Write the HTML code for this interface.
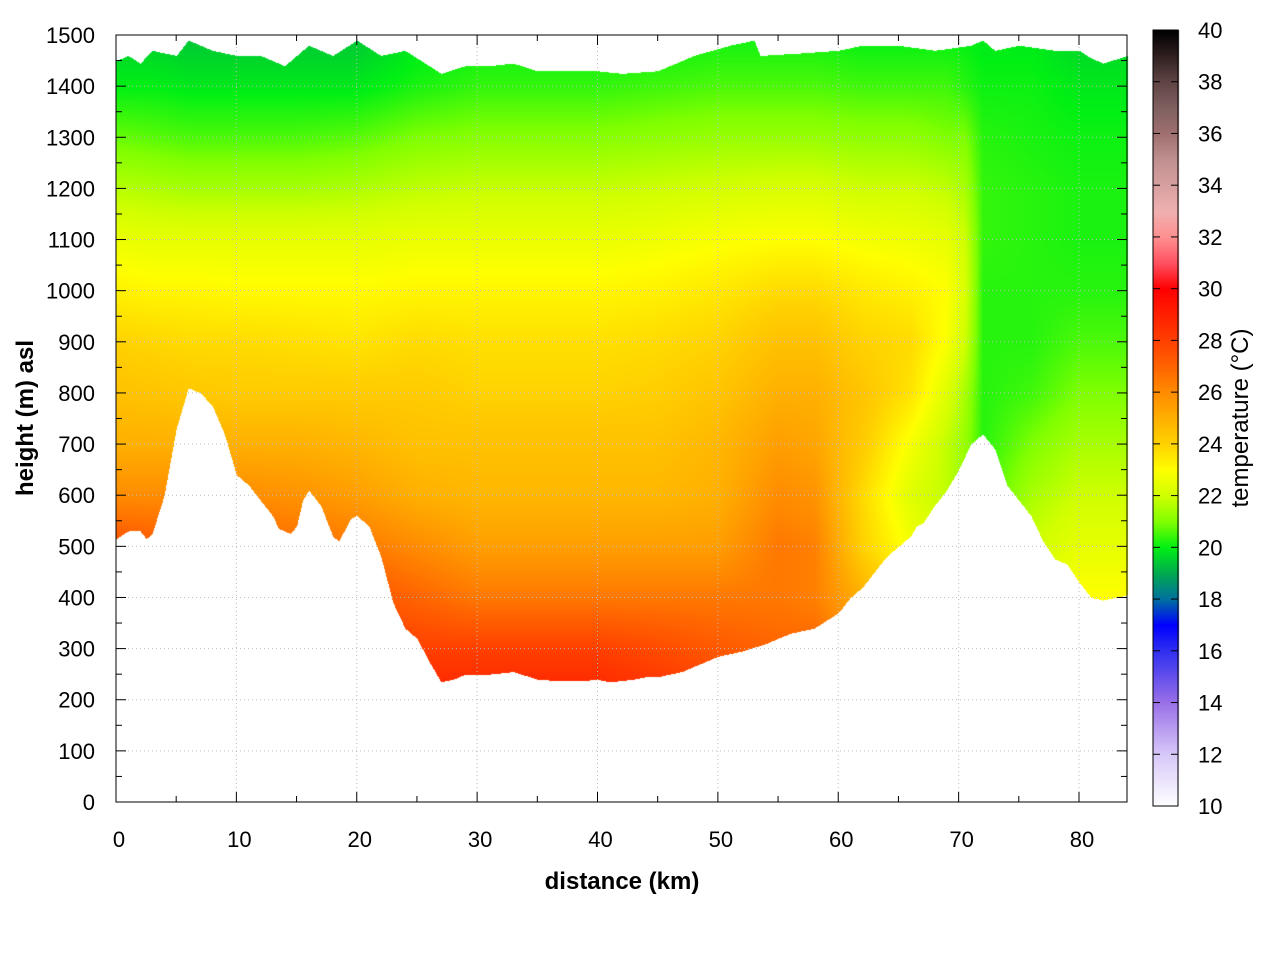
<!DOCTYPE html>
<html><head><meta charset="utf-8"><style>
body{margin:0;background:#fff;width:1280px;height:960px;overflow:hidden;font-family:"Liberation Sans",sans-serif}
#wrap{position:relative;width:1280px;height:960px}
canvas,svg{position:absolute;left:0;top:0}
</style></head><body><div id="wrap">
<canvas id="cv" width="1280" height="960"></canvas>
<svg id="sv" width="1280" height="960"></svg>
</div>
<script>
const colX=[0,3,6,10,15,20,25,30,35,40,45,50,55,58,62,66,69,70.5,72,76,80,84];
const levels=[200,300,400,500,600,700,800,900,1000,1100,1200,1300,1400,1500];
const temps=[
[29,28.5,28,27.5,26,25,24.5,24,23.3,22.6,21.7,20.8,20,19.5],
[29,28.5,28,27.3,26,25,24.4,23.9,23.2,22.5,21.6,20.7,20,19.5],
[29,28.5,28,27,26,25,24.3,23.8,23.2,22.5,21.5,20.6,19.9,19.4],
[29,28.5,28,27,26,25,24.2,23.8,23.1,22.5,21.5,20.6,19.9,19.4],
[29,28.5,28,26.8,25.8,25,24.2,23.7,23.1,22.5,21.5,20.6,19.9,19.4],
[29,28.3,27.5,26.5,25.5,24.8,24.2,23.6,23.1,22.5,21.6,20.7,19.9,19.4],
[29,28,27,26,25,24.5,24.2,23.8,23.2,22.6,21.8,21,20.2,19.8],
[29,28,26.5,25.5,24.8,24.5,24,23.7,23.2,22.6,21.9,21.1,20.4,20],
[29,28,26.5,25.5,24.8,24.5,24,23.7,23.2,22.6,21.9,21.1,20.4,20],
[29,28,26.5,25.5,24.8,24.5,24,23.7,23.2,22.6,21.9,21.1,20.4,20],
[28.5,27.7,26.5,25.5,24.8,24.5,24.1,23.8,23.3,22.7,22,21.2,20.5,20],
[28,27.3,26.5,25.5,25,24.8,24.4,24,23.5,22.9,22.1,21.3,20.6,20.1],
[27.5,27,26.5,26.5,26,25.5,25,24.5,23.8,23,22.2,21.3,20.6,20.1],
[27.5,27,26.3,26.3,25.8,25.3,25,24.5,23.8,23,22.2,21.3,20.6,20.1],
[26,25.5,25,24,23.8,24.2,24.4,24,23.5,22.8,22,21.2,20.5,20],
[25,24.5,23.5,22.8,22.3,22.8,23.6,23.8,23.3,22.7,22,21.2,20.5,20],
[24,23.5,22.5,22.3,21.8,21.8,22.3,22.9,23,22.5,21.8,21,20.5,20],
[22,22,22,21.5,21.3,21.3,21.5,22,22.2,22,21.5,21,20.3,20],
[21.5,21.5,21.5,21,20.5,20.3,20.3,20.3,20.3,20.4,20.4,20.3,20.1,19.9],
[22.5,22.5,22.5,22,21.5,21,20.5,20.3,20.3,20.3,20.3,20.2,20.1,19.9],
[23,23,23,22.5,22,21.5,21,20.6,20.3,20.2,20.2,20.1,19.9,19.6],
[23,23,23,22.5,22,21.5,21,20.6,20.3,20.2,20.2,20.1,19.9,19.6]];
const terrainX=[0,1,2,2.5,3,4,5,6,7,8,9,10,11,12,13,13.5,14.5,15,15.5,16,17,18,18.5,19.5,20,21,22,23,24,25,26,27,28,29,31,33,35,37,39,40,41,43,44,45,47,49,50,51,52,54,56,58,59,60,61,62,63,64,65,66,66.5,67,68,69,70,71,72,73,74,75,76,77,78,79,80,81,82,83,84];
const terrainZ=[515,530,530,515,525,600,730,810,800,775,720,640,620,590,560,535,525,540,590,610,580,520,510,555,560,540,480,390,340,320,275,235,240,250,250,255,240,237,238,240,235,240,245,245,255,275,285,290,295,310,330,340,355,370,400,420,450,480,500,520,540,545,580,610,650,700,720,690,620,590,560,510,475,465,430,400,395,400,405];
const topX=[0,1,2,3,5,6,8,10,12,14,16,18,20,22,24,26,27,29,31,33,35,40,42,45,48,51,53,53.5,57,60,62,65,68,71,72,73,75,78,80,81,82,84];
const topZ=[1450,1460,1445,1470,1460,1490,1470,1460,1460,1440,1480,1460,1490,1460,1470,1440,1425,1440,1440,1445,1430,1430,1425,1430,1460,1480,1490,1460,1465,1470,1480,1480,1470,1480,1490,1470,1480,1470,1470,1455,1445,1460];
const cbT=[10,12,14,16,17,18,19,20,21,22,23,24,25,26,27,28,29,30,31,32,33,34,35,36,37,38,39,40];
const cbC=[[255,255,255],[216,200,248],[154,112,232],[48,48,240],[0,0,255],[0,112,160],[0,170,80],[0,240,20],[128,255,0],[208,255,0],[255,255,0],[255,210,0],[255,176,0],[255,140,0],[255,100,0],[255,64,0],[255,32,0],[255,0,0],[255,80,96],[255,144,144],[240,176,176],[216,160,160],[192,144,144],[160,112,112],[128,96,96],[96,69,69],[48,32,32],[0,0,0]];
const X0=116,X1=1127,Y0=802,Y1=35;
const px=k=>X0+k*(963/80), py=z=>Y0-z*(Y0-Y1)/1500;
function interp(xs,ys,x){if(x<=xs[0])return ys[0];for(let i=1;i<xs.length;i++)if(x<=xs[i]){const t=(x-xs[i-1])/(xs[i]-xs[i-1]);return ys[i-1]+t*(ys[i]-ys[i-1]);}return ys[ys.length-1];}
function color(t){for(let i=1;i<cbT.length;i++)if(t<=cbT[i]){const f=(t-cbT[i-1])/(cbT[i]-cbT[i-1]);return cbC[i-1].map((c,j)=>c+f*(cbC[i][j]-c));}return cbC[cbC.length-1];}
function temp(x,z){let i=1;while(i<colX.length-1&&x>colX[i])i++;const fx=Math.min(1,Math.max(0,(x-colX[i-1])/(colX[i]-colX[i-1])));
const a=interp(levels,temps[i-1],z),b=interp(levels,temps[i],z);return a+fx*(b-a);}
const cv=document.getElementById('cv'),ctx=cv.getContext('2d');
const img=ctx.createImageData(1280,960);
for(let X=X0;X<=X1;X++){const k=(X-X0)/(963/80);const bz=interp(terrainX,terrainZ,k),tz=interp(topX,topZ,k);
for(let Y=Y1;Y<=Y0;Y++){const z=(Y0-Y)*1500/(Y0-Y1);if(z<bz||z>tz)continue;const c=color(temp(k,z));const o=(Y*1280+X)*4;img.data[o]=c[0];img.data[o+1]=c[1];img.data[o+2]=c[2];img.data[o+3]=255;}}
for(let Y=30;Y<=806;Y++){const t=10+(806-Y)/776*30;const c=color(t);for(let X=1153;X<=1178;X++){const o=(Y*1280+X)*4;img.data[o]=c[0];img.data[o+1]=c[1];img.data[o+2]=c[2];img.data[o+3]=255;}}
ctx.putImageData(img,0,0);
const sv=document.getElementById('sv');const NS='http://www.w3.org/2000/svg';
function mk(tag,at,txt){const e=document.createElementNS(NS,tag);for(const k in at)e.setAttribute(k,at[k]);if(txt!==undefined)e.textContent=txt;sv.appendChild(e);return e;}
for(let k=0;k<=80;k+=10){const x=px(k);
const g=mk('line',{x1:x,x2:x,y1:Y1,y2:Y0,stroke:'#bbb','stroke-dasharray':'1,3','stroke-width':1});

const t=mk('text',{x:x+3,y:847,'font-size':22,'text-anchor':'middle',fill:'#000'},String(k));
}
for(let k=0;k<=84;k+=5){const x=px(k),L=k%10?6:10;mk('line',{x1:x,x2:x,y1:Y0,y2:Y0-L,stroke:'#000'});mk('line',{x1:x,x2:x,y1:Y1,y2:Y1+L,stroke:'#000'});}
for(let z=0;z<=1500;z+=100){const y=py(z);
const g=mk('line',{x1:X0,x2:X1,y1:y,y2:y,stroke:'#bbb','stroke-dasharray':'1,3','stroke-width':1});

const t=mk('text',{x:95,y:y+8,'font-size':22,'text-anchor':'end',fill:'#000'},String(z));
}
for(let z=0;z<=1500;z+=50){const y=py(z),L=z%100?6:10;mk('line',{x1:X0,x2:X0+L,y1:y,y2:y,stroke:'#000'});mk('line',{x1:X1,x2:X1-L,y1:y,y2:y,stroke:'#000'});}
const fr=mk('rect',{x:X0,y:Y1,width:X1-X0,height:Y0-Y1,fill:'none',stroke:'#000'});

const cb=mk('rect',{x:1153,y:30,width:25,height:776,fill:'none',stroke:'#000'});

for(let t=10;t<=40;t+=2){const y=806-(t-10)/30*776;
mk('line',{x1:1153,x2:1160,y1:y,y2:y,stroke:'#000'});mk('line',{x1:1178,x2:1171,y1:y,y2:y,stroke:'#000'});
const l=mk('text',{x:1198,y:y+8,'font-size':22,fill:'#000'},String(t));
}
const xt=mk('text',{x:622,y:889,'font-size':24,'font-weight':'bold','text-anchor':'middle'},'distance (km)');

const yt=mk('text',{x:0,y:0,'font-size':24,'font-weight':'bold','text-anchor':'middle',transform:'translate(33,418) rotate(-90)'},'height (m) asl');

const ct=mk('text',{x:0,y:0,'font-size':24,'text-anchor':'middle',transform:'translate(1248,418) rotate(-90)'},'temperature (°C)');

</script></body></html>
